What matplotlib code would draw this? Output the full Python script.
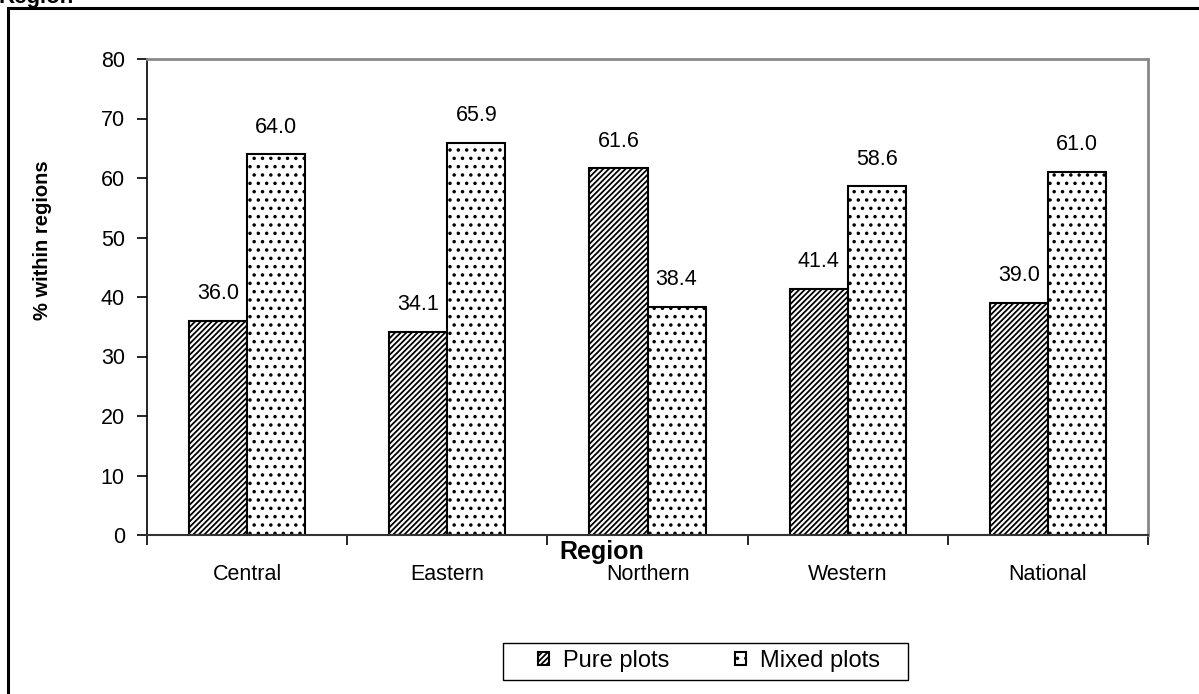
import numpy as np
import matplotlib.pyplot as plt
from matplotlib.patches import Rectangle

plt.rcParams['font.family'] = ['Liberation Sans', 'DejaVu Sans']
plt.rcParams['hatch.linewidth'] = 1.3

# data
regions = ['Central', 'Eastern', 'Northern', 'Western', 'National']
pure = [36.0, 34.1, 61.6, 41.4, 39.0]
mixed = [64.0, 65.9, 38.4, 58.6, 61.0]

W, H = 1199, 694
fig = plt.figure(figsize=(W / 100, H / 100), dpi=100)

# outer frame, runs off the right and bottom edges
fig.patches.append(Rectangle((8 / W, -0.05), 1.1, 1 - 8 / H + 0.05,
                             transform=fig.transFigure, fill=False,
                             edgecolor='black', linewidth=2.2, clip_on=False))
fig.text(-1 / W, 1 - 3 / H, 'Region', fontsize=16, fontweight='bold',
         ha='left', va='baseline')

ax = fig.add_axes([147 / W, 1 - 535 / H, (1148 - 147) / W, (535 - 59) / H])

x = np.arange(len(regions))
w = 0.29
b1 = ax.bar(x - w / 2, pure, w, color='white', edgecolor='black',
            hatch='//////', linewidth=1.5, label='Pure plots')
b2 = ax.bar(x + w / 2, mixed, w, color='white', edgecolor='black',
            hatch='..', linewidth=1.5, label='Mixed plots')
for bars, vals in ((b1, pure), (b2, mixed)):
    for r, v in zip(bars, vals):
        ax.annotate('%.1f' % v, (r.get_x() + r.get_width() / 2, v),
                    xytext=(0, 12), textcoords='offset points',
                    ha='center', va='bottom', fontsize=15.5)

ax.set_xlim(-0.5, len(regions) - 0.5)
ax.set_ylim(0, 80)
ax.set_yticks(range(0, 81, 10))
ax.set_xticks(np.arange(len(regions) + 1) - 0.5)
ax.set_xticklabels([])
ax.set_xticks(x, minor=True)
ax.set_xticklabels(regions, minor=True, fontsize=15.5)
ax.tick_params(axis='x', which='minor', length=0, pad=21)
ax.tick_params(axis='x', which='major', direction='out', length=7, width=1.2)
ax.tick_params(axis='y', direction='out', length=7, width=1.2, labelsize=15.5, pad=9)

for s in ('top', 'right'):
    ax.spines[s].set_color('#888888')
    ax.spines[s].set_linewidth(2)
ax.spines['left'].set_linewidth(1.2)
ax.spines['bottom'].set_linewidth(1.5)
ax.spines['bottom'].set_color('#333333')

ax.set_ylabel('% within regions', fontsize=14.5, fontweight='bold')
ax.yaxis.set_label_coords(-0.095, 0.62)
fig.text(602 / W, 1 - 552 / H, 'Region', fontsize=18, fontweight='bold',
         ha='center', va='center')

# legend box drawn by hand so the padding matches
fig.patches.append(Rectangle((503 / W, 1 - 680 / H), 405 / W, 37 / H,
                             transform=fig.transFigure, fill=False,
                             edgecolor='black', linewidth=1.0))
leg = fig.legend(handles=[b1, b2], loc='center', ncol=2,
                 bbox_to_anchor=(709 / W, 1 - 661 / H), fontsize=17,
                 frameon=False, handlelength=0.45, handleheight=0.45,
                 columnspacing=2.8, handletextpad=0.6, borderpad=0,
                 borderaxespad=0)

fig.savefig('out.png', dpi=100)
